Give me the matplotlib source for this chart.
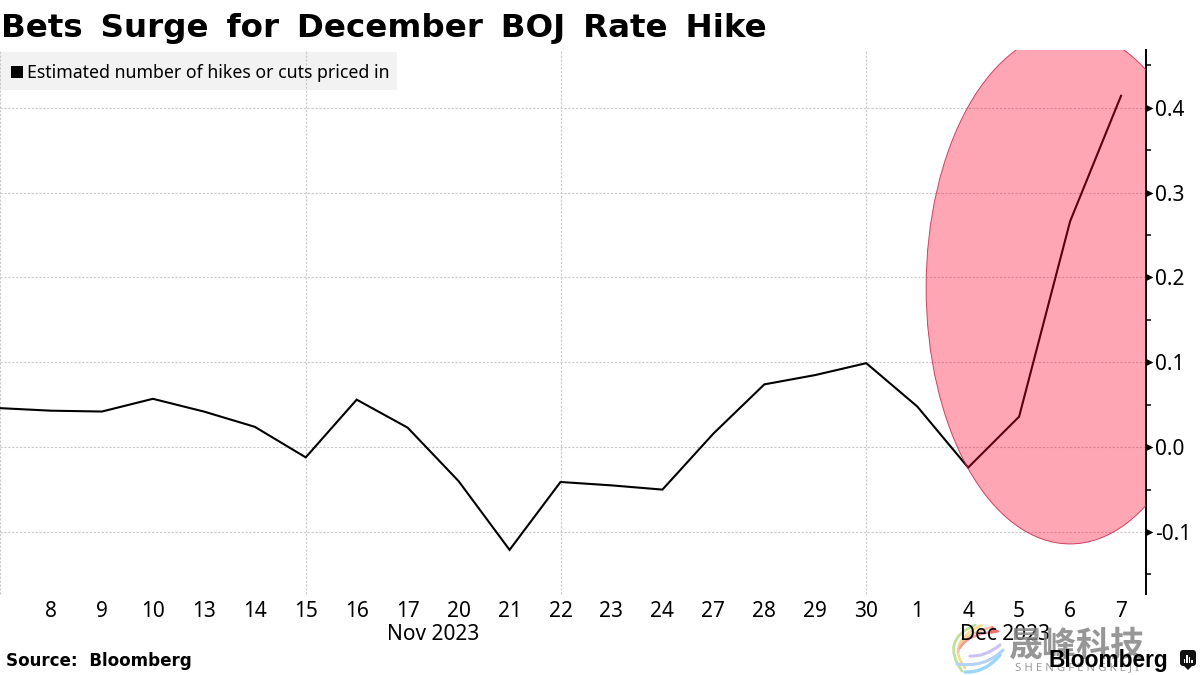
import matplotlib
matplotlib.use("Agg")
import matplotlib.pyplot as plt
from matplotlib.patches import Ellipse, Rectangle, FancyBboxPatch, PathPatch, Polygon
from matplotlib.path import Path
import numpy as np

# Tick labels, first point (Nov 7) sits on the left edge and has no label
days = ["", "8", "9", "10", "13", "14", "15", "16", "17", "20", "21", "22",
        "23", "24", "27", "28", "29", "30", "1", "4", "5", "6", "7"]
hikes_priced = [0.046, 0.043, 0.042, 0.057, 0.042, 0.024, -0.012, 0.056, 0.023, -0.040, -0.121,
                -0.041, -0.045, -0.050, 0.016, 0.074, 0.085, 0.099, 0.048, -0.024, 0.036, 0.266, 0.414]
y_major = [-0.1, 0.0, 0.1, 0.2, 0.3, 0.4]
y_minor = [-0.15, -0.05, 0.05, 0.15, 0.25, 0.35, 0.45]
grid_days = [0, 6, 11, 17]

LABEL_FONT = "Noto Sans"
BOLD_FONT = "DejaVu Sans"
GRID_COLOR = "#c8c8c8"

fig = plt.figure(figsize=(12, 6.75), dpi=100)
ax = fig.add_axes([0, 81 / 675, 1146 / 1200, 544 / 675])
xs = np.arange(len(hikes_priced))
ax.set_xlim(0, 22.49)
ax.set_ylim(-0.173, 0.468)

for s in ["top", "left", "bottom"]:
    ax.spines[s].set_visible(False)
ax.spines["right"].set_linewidth(1.4)

# ============================
# Grid and legend box
# ============================
for v in y_major:
    ax.axhline(v, color=GRID_COLOR, lw=0.8, dashes=(2, 1.5), zorder=1)
for i in grid_days:
    ax.axvline(i, color=GRID_COLOR, lw=0.8, dashes=(2, 1.5), zorder=1, clip_on=False)

ax.plot(xs, hikes_priced, color="black", lw=1.5, zorder=3, solid_joinstyle="miter")

# Highlight goes over the line, that's why the line looks maroon inside it
ax.add_patch(Ellipse((21.0, 0.188), 5.65, 0.604, facecolor=(1, 0, 0.157, 0.35),
                     edgecolor=(0.78, 0.15, 0.3, 0.85), lw=0.7, zorder=4))

# ============================
# Axis ticks
# ============================
ax.yaxis.tick_right()
ax.set_yticks(y_major)
ax.set_yticklabels([f"{v:.1f}" for v in y_major], fontsize=15, family=LABEL_FONT)
ax.tick_params(axis="y", which="major", length=0, pad=6.5)
ax.set_yticks(y_minor, minor=True)
ax.tick_params(axis="y", which="minor", length=3.4, width=1.1, direction="out")
ax.plot([1] * len(y_major), y_major, transform=ax.get_yaxis_transform(), linestyle="none",
        marker=[(0, -0.5), (1, 0), (0, 0.5)], color="black", markersize=10, markeredgewidth=0,
        clip_on=False, zorder=5)

ax.set_xticks(xs)
ax.set_xticklabels(days, fontsize=15, family=LABEL_FONT)
ax.tick_params(axis="x", length=0, pad=5)

# ============================
# Everything else, in pixel coords
# ============================
over = fig.add_axes([0, 0, 1, 1], zorder=10)
over.set_xlim(0, 1200)
over.set_ylim(675, 0)
over.axis("off")

ax.add_patch(Rectangle((0, 0.9265), 397 / 1146, 0.0698, transform=ax.transAxes,
                       facecolor="#f2f2f2", edgecolor="none", zorder=0, clip_on=False))
over.add_patch(Rectangle((11, 66), 12, 12, facecolor="black", edgecolor="none"))
over.text(27, 72.5, "Estimated number of hikes or cuts priced in", fontsize=12.75,
          family=LABEL_FONT, va="center", ha="left")

over.text(1, 36.5, "Bets \u2009Surge \u2009for \u2009December \u2009BOJ \u2009Rate \u2009Hike", fontsize=23.4,
          fontweight="bold", family=BOLD_FONT, va="baseline", ha="left")
over.text(6, 661, "Source:  Bloomberg", fontsize=12.1, fontweight="bold",
          family=BOLD_FONT, va="center", ha="left")

over.text(433, 634, "Nov 2023", fontsize=15, family=LABEL_FONT, va="center", ha="center")
over.text(1005, 634, "Dec 2023", fontsize=15, family=LABEL_FONT, va="center", ha="center")

# watermark
over.text(1077, 645, "晟峰科技", fontsize=24.5, fontweight="bold", color="#858585", alpha=0.85,
          family=["Noto Sans CJK SC", "DejaVu Sans"], va="center", ha="center")
over.text(1077, 668, "S H E N G F E N G K E J I", fontsize=8.2, color="#9a9a9a",
          family=LABEL_FONT, va="center", ha="center")
swooshes = [
    ((962, 671), (940, 640), (975, 625), "#bfe09a", 2.0),
    ((965, 668), (945, 642), (982, 625), "#f3dc8c", 1.8),
    ((958, 652), (962, 634), (992, 627), "#f6c09a", 1.8),
    ((960, 648), (968, 634), (998, 631), "#f29a9a", 1.6),
    ((965, 672), (985, 673), (1000, 655), "#9ad6f7", 2.4),
    ((957, 664), (985, 668), (1003, 650), "#b3d2f7", 2.2),
    ((970, 656), (985, 657), (1000, 645), "#cbc2f3", 2.2),
]
for p0, p1, p2, col, width in swooshes:
    path = Path([p0, p1, p2], [Path.MOVETO, Path.CURVE3, Path.CURVE3])
    over.add_patch(PathPatch(path, facecolor="none", edgecolor=col, lw=width, capstyle="round"))
over.add_patch(Polygon([(992, 626), (1000, 632), (990, 634)], facecolor="#ef6f6f", edgecolor="none"))

# Bloomberg logo
over.text(1048, 661, "Bloomberg", fontsize=16.4, fontweight="bold", family="Liberation Sans",
          va="center", ha="left", color="black")
over.add_patch(FancyBboxPatch((1182, 652), 12, 12, boxstyle="round,pad=2,rounding_size=3",
                              facecolor="#111111", edgecolor="none"))
over.add_patch(Polygon([(1184, 666), (1192, 666), (1188, 670)], facecolor="#111111", edgecolor="none"))
for bx, top in [(1184.5, 659), (1187, 655), (1189.5, 657), (1192, 660)]:
    over.add_patch(Rectangle((bx - 0.6, top), 1.3, 663 - top, facecolor="white", edgecolor="none"))

fig.savefig("out.png", dpi=100)
